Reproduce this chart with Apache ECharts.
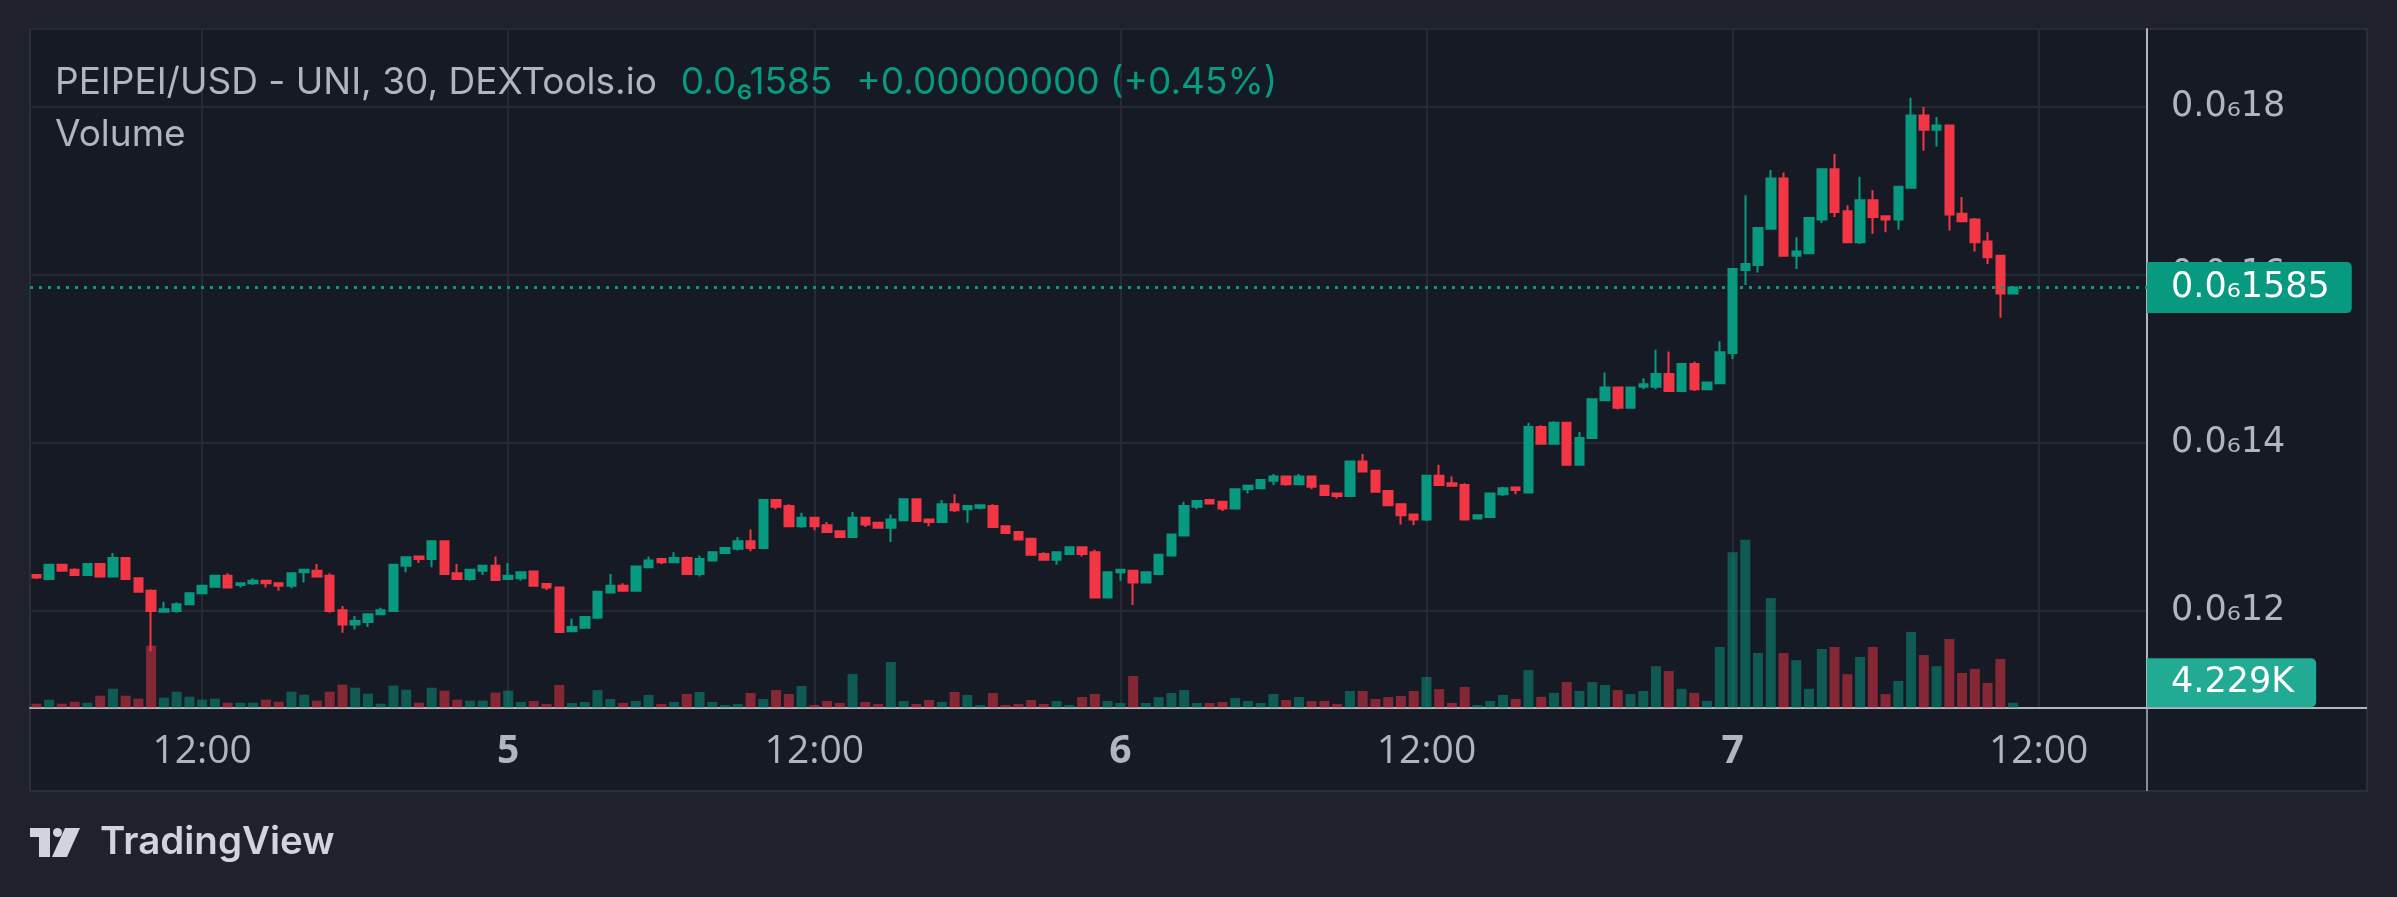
<!DOCTYPE html>
<html>
<head>
<meta charset="utf-8">
<script src="https://cdn.jsdelivr.net/npm/echarts@6/dist/echarts.min.js"></script>
<style>
html,body{margin:0;padding:0;background:#1F222D;}
#chart{width:2397px;height:897px;}
</style>
</head>
<body>
<div id="chart"></div>
<script>
// Prices are in millionths of a USD (0.0₆18 = 0.00000018 USD). Rows: [open, high, low, close]
const candles = [
[0.1243,0.1243,0.1238,0.1240],[0.1238,0.1256,0.1238,0.1255],[0.1255,0.1255,0.1248,0.1248],[0.1249,0.1251,0.1243,0.1243],
[0.1243,0.1256,0.1243,0.1256],[0.1256,0.1256,0.1241,0.1241],[0.1241,0.1269,0.1241,0.1263],[0.1263,0.1263,0.1238,0.1238],
[0.1239,0.1240,0.1223,0.1223],[0.1224,0.1226,0.1152,0.1200],[0.1199,0.1211,0.1199,0.1202],[0.1200,0.1210,0.1198,0.1208],
[0.1208,0.1221,0.1208,0.1221],[0.1221,0.1230,0.1221,0.1230],[0.1229,0.1242,0.1229,0.1242],[0.1242,0.1245,0.1228,0.1228],
[0.1231,0.1233,0.1228,0.1233],[0.1233,0.1239,0.1231,0.1236],[0.1236,0.1237,0.1228,0.1233],[0.1233,0.1233,0.1224,0.1230],
[0.1230,0.1245,0.1227,0.1245],[0.1246,0.1249,0.1234,0.1249],[0.1248,0.1256,0.1241,0.1241],[0.1242,0.1245,0.1198,0.1200],
[0.1201,0.1206,0.1174,0.1184],[0.1184,0.1194,0.1178,0.1188],[0.1187,0.1196,0.1181,0.1196],[0.1196,0.1204,0.1196,0.1201],
[0.1200,0.1255,0.1200,0.1255],[0.1254,0.1264,0.1246,0.1264],[0.1265,0.1265,0.1257,0.1262],[0.1262,0.1283,0.1252,0.1283],
[0.1283,0.1283,0.1244,0.1244],[0.1245,0.1256,0.1238,0.1238],[0.1238,0.1249,0.1236,0.1249],[0.1248,0.1254,0.1243,0.1254],
[0.1254,0.1265,0.1237,0.1237],[0.1238,0.1257,0.1238,0.1242],[0.1239,0.1246,0.1236,0.1246],[0.1247,0.1247,0.1230,0.1230],
[0.1232,0.1232,0.1225,0.1228],[0.1228,0.1228,0.1174,0.1175],[0.1176,0.1191,0.1176,0.1181],[0.1180,0.1193,0.1180,0.1193],
[0.1192,0.1223,0.1192,0.1223],[0.1222,0.1244,0.1222,0.1230],[0.1230,0.1233,0.1224,0.1224],[0.1224,0.1253,0.1224,0.1253],
[0.1252,0.1265,0.1252,0.1260],[0.1262,0.1262,0.1256,0.1258],[0.1258,0.1270,0.1258,0.1263],[0.1263,0.1265,0.1244,0.1244],
[0.1244,0.1266,0.1241,0.1262],[0.1260,0.1270,0.1260,0.1270],[0.1269,0.1275,0.1269,0.1275],[0.1274,0.1288,0.1272,0.1283],
[0.1283,0.1297,0.1271,0.1275],[0.1275,0.1332,0.1275,0.1332],[0.1332,0.1333,0.1321,0.1324],[0.1325,0.1327,0.1301,0.1301],
[0.1301,0.1317,0.1299,0.1311],[0.1311,0.1311,0.1296,0.1301],[0.1302,0.1306,0.1294,0.1294],[0.1295,0.1295,0.1288,0.1288],
[0.1288,0.1318,0.1288,0.1311],[0.1311,0.1311,0.1300,0.1303],[0.1305,0.1306,0.1299,0.1299],[0.1299,0.1315,0.1282,0.1309],
[0.1308,0.1333,0.1308,0.1333],[0.1333,0.1333,0.1307,0.1307],[0.1309,0.1309,0.1301,0.1306],[0.1306,0.1332,0.1306,0.1327],
[0.1327,0.1339,0.1318,0.1320],[0.1321,0.1325,0.1305,0.1325],[0.1323,0.1326,0.1321,0.1326],[0.1325,0.1327,0.1300,0.1300],
[0.1301,0.1301,0.1293,0.1293],[0.1294,0.1294,0.1285,0.1285],[0.1286,0.1286,0.1267,0.1267],[0.1268,0.1270,0.1260,0.1261],
[0.1261,0.1270,0.1255,0.1270],[0.1268,0.1276,0.1268,0.1276],[0.1276,0.1276,0.1265,0.1268],[0.1270,0.1273,0.1216,0.1216],
[0.1216,0.1246,0.1216,0.1246],[0.1246,0.1249,0.1236,0.1249],[0.1248,0.1248,0.1207,0.1234],[0.1234,0.1247,0.1234,0.1246],
[0.1244,0.1267,0.1244,0.1267],[0.1266,0.1292,0.1266,0.1291],[0.1290,0.1330,0.1290,0.1325],[0.1324,0.1331,0.1321,0.1331],
[0.1332,0.1333,0.1328,0.1328],[0.1330,0.1330,0.1319,0.1322],[0.1322,0.1345,0.1322,0.1345],[0.1345,0.1349,0.1340,0.1349],
[0.1346,0.1356,0.1346,0.1356],[0.1355,0.1363,0.1350,0.1360],[0.1360,0.1360,0.1349,0.1351],[0.1351,0.1363,0.1351,0.1360],
[0.1360,0.1360,0.1345,0.1348],[0.1349,0.1349,0.1337,0.1338],[0.1340,0.1340,0.1334,0.1337],[0.1337,0.1378,0.1337,0.1378],
[0.1378,0.1387,0.1366,0.1366],[0.1367,0.1367,0.1342,0.1342],[0.1343,0.1343,0.1326,0.1326],[0.1327,0.1327,0.1303,0.1314],
[0.1315,0.1315,0.1302,0.1309],[0.1309,0.1361,0.1307,0.1361],[0.1361,0.1374,0.1350,0.1350],[0.1352,0.1360,0.1349,0.1349],
[0.1350,0.1352,0.1309,0.1309],[0.1310,0.1315,0.1310,0.1314],[0.1312,0.1340,0.1312,0.1340],[0.1339,0.1348,0.1337,0.1346],
[0.1347,0.1347,0.1339,0.1344],[0.1341,0.1424,0.1341,0.1419],[0.1419,0.1421,0.1399,0.1399],[0.1399,0.1426,0.1399,0.1424],
[0.1424,0.1424,0.1374,0.1374],[0.1374,0.1413,0.1374,0.1406],[0.1406,0.1452,0.1406,0.1452],[0.1451,0.1484,0.1451,0.1466],
[0.1466,0.1466,0.1440,0.1442],[0.1442,0.1466,0.1442,0.1466],[0.1467,0.1477,0.1464,0.1470],[0.1467,0.1511,0.1464,0.1482],
[0.1482,0.1509,0.1462,0.1462],[0.1462,0.1494,0.1462,0.1494],[0.1494,0.1497,0.1462,0.1464],[0.1464,0.1472,0.1464,0.1472],
[0.1471,0.1521,0.1471,0.1508],[0.1507,0.1607,0.1500,0.1607],[0.1606,0.1695,0.1588,0.1613],[0.1612,0.1656,0.1603,0.1656],
[0.1655,0.1725,0.1655,0.1715],[0.1715,0.1722,0.1623,0.1623],[0.1623,0.1645,0.1607,0.1628],[0.1626,0.1668,0.1626,0.1668],
[0.1666,0.1726,0.1662,0.1726],[0.1726,0.1744,0.1669,0.1675],[0.1676,0.1683,0.1639,0.1639],[0.1639,0.1717,0.1637,0.1689],
[0.1689,0.1701,0.1649,0.1669],[0.1670,0.1670,0.1651,0.1666],[0.1666,0.1705,0.1654,0.1705],[0.1704,0.1811,0.1704,0.1790],
[0.1790,0.1800,0.1748,0.1773],[0.1773,0.1788,0.1753,0.1778],[0.1778,0.1778,0.1653,0.1672],[0.1673,0.1693,0.1664,0.1664],
[0.1666,0.1668,0.1628,0.1639],[0.1640,0.1651,0.1613,0.1621],[0.1623,0.1623,0.1549,0.15779],[0.15779,0.1587,0.15779,0.1585]
];
// Volume in thousands
const volumes = [
3.5,6.8,3.5,5.1,4.3,10.0,15.7,10.0,7.6,50.7,8.4,13.3,9.2,6.8,7.6,4.3,4.3,4.3,6.8,5.1,
13.3,10.8,6.0,13.3,19.0,16.5,11.7,3.5,18.2,14.9,4.3,16.5,14.1,6.8,6.0,6.0,12.5,14.1,5.0,
5.7,3.3,18.7,4.1,4.9,14.6,7.3,4.1,5.7,10.6,3.3,4.9,11.4,13.0,4.9,2.4,3.3,12.2,7.3,14.6,11.4,
17.9,2.4,5.7,4.1,27.6,4.9,3.3,37.4,5.7,3.3,6.5,4.9,13.0,10.6,2.4,12.2,2.4,3.3,
6.5,3.3,5.7,2.4,8.9,11.4,5.7,4.1,26.0,4.1,8.9,12.2,14.6,4.1,4.1,4.9,8.1,5.7,4.1,11.4,
6.5,8.9,5.7,5.7,3.3,13.8,13.8,7.3,8.9,9.8,13.8,25.2,15.4,4.1,17.1,2.4,5.7,10.6,7.4,
30.8,9.1,12.3,21.1,13.9,21.1,18.8,14.6,11.3,13.9,34.0,30.1,15.6,12.3,5.8,49.6,126.7,136.7,44.7,89.4,
44.7,38.9,15.6,48.0,49.6,27.5,41.5,49.6,11.3,22.0,61.9,43.1,34.0,56.1,28.5,31.8,20.4,39.9,4.229
];
const firstBar = {day: 4, hour: 5, minute: 30};
const barMinutes = 30;
const emptyBarsRight = 10;
const legendTitle = 'PEIPEI/USD - UNI, 30, DEXTools.io';
const legendChange = '+0.00000000 (+0.45%)';
const volumeTitle = 'Volume';

const FONT = 'Inter, "Noto Sans", sans-serif';
const AXFONT = '"DejaVu Sans", "Noto Sans", sans-serif';
const TFONT = '"Open Sans", "Noto Sans", sans-serif';
const UP = '#089981', DOWN = '#F23645';
const TEXT = '#B2B5BE';
const GRIDC = '#262A35';

// categories (30-minute bars)
const categories = [];
{
  let d = firstBar.day, h = firstBar.hour, m = firstBar.minute;
  for (let i = 0; i < candles.length + emptyBarsRight; i++) {
    categories.push(d + ' ' + String(h).padStart(2, '0') + ':' + String(m).padStart(2, '0'));
    m += barMinutes; if (m >= 60) { m -= 60; h++; } if (h >= 24) { h = 0; d++; }
  }
}
function timeLabel(cat) {
  const parts = cat.split(' ');
  if (parts[1] === '00:00') return '{d|' + parts[0] + '}';
  if (parts[1] === '12:00') return '12:00';
  return '';
}
const showAt = (i) => timeLabel(categories[i]) !== '';
const fmtTick = v => '0.0\u2086' + Math.round(v * 100);
const fmtPrice = v => '0.0\u2086' + Math.round(v * 10000);

const last = candles[candles.length - 1];
const lastClose = last[3];
const lastVol = volumes[volumes.length - 1];

const candleData = candles.map(r => [r[0], r[3], r[2], r[1]]);
const volData = volumes.map((v, i) => ({
  value: v,
  itemStyle: {color: candles[i][3] >= candles[i][0] ? 'rgba(8,153,129,0.5)' : 'rgba(242,54,69,0.5)'}
}));

const chart = echarts.init(document.getElementById('chart'), null, {renderer: 'canvas'});
const OUTER = '#1F222D';
chart.setOption({
  backgroundColor: '#161A25',
  animation: false,
  textStyle: {fontFamily: FONT},
  title: [
    {
      left: 55, top: 63, padding: 0,
      text: '{a|' + legendTitle + '}{g|' + fmtPrice(lastClose) + '}{g|' + legendChange + '}',
      textStyle: {
        fontWeight: 'normal',
        rich: {
          a: {fontSize: 37, color: TEXT, fontFamily: FONT, lineHeight: 40},
          g: {fontSize: 37, color: UP, fontFamily: FONT, lineHeight: 40, padding: [0, 0, 0, 24]}
        }
      }
    },
    {
      left: 55, top: 115, padding: 0, text: volumeTitle,
      textStyle: {fontSize: 37, fontWeight: 'normal', color: TEXT, fontFamily: FONT, lineHeight: 40}
    }
  ],
  grid: {left: 30, right: 250, top: 29, bottom: 189},
  xAxis: {
    type: 'category',
    data: categories,
    boundaryGap: true,
    axisLine: {lineStyle: {color: TEXT, width: 2}},
    axisTick: {show: false},
    axisLabel: {
      interval: showAt, formatter: v => timeLabel(v),
      color: TEXT, fontSize: 39, margin: 24, lineHeight: 39, fontFamily: TFONT,
      rich: {d: {fontWeight: 'bold', fontSize: 39, color: TEXT, fontFamily: TFONT, lineHeight: 39}}
    },
    splitLine: {show: true, interval: showAt, alignWithLabel: true, lineStyle: {color: GRIDC, width: 2}}
  },
  yAxis: [
    {
      type: 'value', position: 'right',
      min: 0.108452, max: 0.189286,
      axisLine: {show: true, lineStyle: {color: TEXT, width: 2}},
      axisTick: {show: false},
      axisLabel: {formatter: fmtTick, color: TEXT, fontSize: 35, margin: 24, showMinLabel: false, showMaxLabel: false, fontFamily: AXFONT},
      splitLine: {show: true, lineStyle: {color: GRIDC, width: 2}}
    },
    {type: 'value', min: 0, max: 552, show: false, splitLine: {show: false}}
  ],
  series: [
    {
      type: 'bar', name: 'Volume', xAxisIndex: 0, yAxisIndex: 1,
      data: volData, barWidth: 10, z: 1, silent: true,
      markLine: {
        silent: true, symbol: ['none', 'none'], animation: false, precision: 6,
        data: [{yAxis: lastVol}],
        lineStyle: {color: 'rgba(0,0,0,0)', width: 0},
        label: {
          show: true, position: 'end', distance: 0, offset: [0, -20],
          formatter: () => lastVol.toFixed(3) + 'K',
          backgroundColor: '#22AB94', color: '#FFFFFF', fontSize: 35, fontFamily: AXFONT,
          padding: [7, 22, 7, 24], borderRadius: [0, 5, 5, 0], lineHeight: 35
        }
      }
    },
    {
      type: 'candlestick', name: 'PEIPEI/USD', xAxisIndex: 0, yAxisIndex: 0,
      data: candleData, barWidth: 9, z: 3, silent: true,
      itemStyle: {color: UP, color0: DOWN, borderColor: UP, borderColor0: DOWN, borderWidth: 2},
      markLine: {
        silent: true, symbol: ['none', 'none'], animation: false, precision: 6,
        data: [{yAxis: lastClose}],
        lineStyle: {color: UP, type: [3, 6], width: 3},
        label: {
          show: true, position: 'end', distance: 0,
          formatter: () => fmtPrice(lastClose),
          backgroundColor: UP, color: '#FFFFFF', fontSize: 35, fontFamily: AXFONT,
          padding: [8, 22, 8, 24], borderRadius: [0, 5, 5, 0], lineHeight: 35
        }
      }
    }
  ],
  graphic: [
    {type: 'rect', shape: {x: 0, y: 0, width: 2397, height: 29}, style: {fill: OUTER}, silent: true},
    {type: 'rect', shape: {x: 0, y: 0, width: 30, height: 897}, style: {fill: OUTER}, silent: true},
    {type: 'rect', shape: {x: 2367, y: 0, width: 30, height: 897}, style: {fill: OUTER}, silent: true},
    {type: 'rect', shape: {x: 0, y: 791, width: 2397, height: 106}, style: {fill: OUTER}, silent: true},
    {type: 'rect', shape: {x: 30, y: 29, width: 2337, height: 762}, style: {fill: null, stroke: '#2A2E39', lineWidth: 2}, silent: true},
    {type: 'line', shape: {x1: 2147, y1: 708, x2: 2367, y2: 708}, style: {stroke: TEXT, lineWidth: 2}, silent: true},
    {type: 'line', shape: {x1: 2147, y1: 708, x2: 2147, y2: 791}, style: {stroke: TEXT, lineWidth: 1.5}, silent: true},
    {type: 'group', x: 30, y: 828, silent: true, children: [
      {type: 'rect', shape: {x: 0, y: 0, width: 20, height: 9}, style: {fill: '#D1D4DC'}},
      {type: 'rect', shape: {x: 9, y: 0, width: 11, height: 29}, style: {fill: '#D1D4DC'}},
      {type: 'circle', shape: {cx: 27.5, cy: 4.5, r: 4.5}, style: {fill: '#D1D4DC'}},
      {type: 'polygon', shape: {points: [[35, 0], [50, 0], [37, 29], [22, 29]]}, style: {fill: '#D1D4DC'}},
      {type: 'text', x: 70, y: 14.5, style: {text: 'TradingView', fill: '#D1D4DC', font: '600 38.5px ' + FONT, verticalAlign: 'middle', align: 'left'}}
    ]}
  ]
});
</script>
</body>
</html>
